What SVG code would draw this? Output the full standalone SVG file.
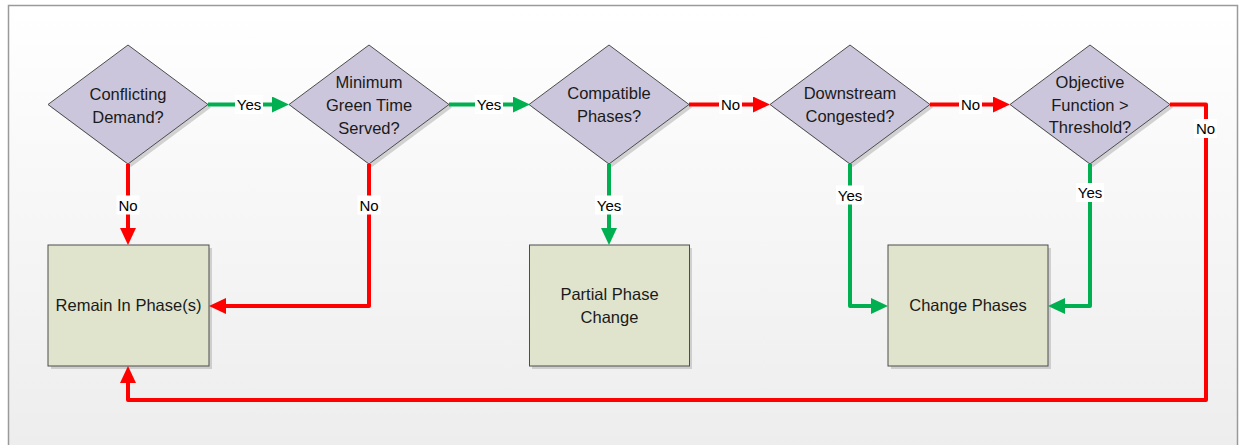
<svg xmlns="http://www.w3.org/2000/svg" width="1243" height="445" viewBox="0 0 1243 445">
<defs>
<linearGradient id="bg" x1="0" y1="0" x2="0" y2="1">
<stop offset="0" stop-color="#ffffff"/>
<stop offset="1" stop-color="#ededed"/>
</linearGradient>
<marker id="ag" markerUnits="userSpaceOnUse" markerWidth="18" markerHeight="18" refX="12" refY="8" orient="auto"><path d="M0,0 L17,8 L0,16 z" fill="#00b050"/></marker>
<marker id="ar" markerUnits="userSpaceOnUse" markerWidth="18" markerHeight="18" refX="12" refY="8" orient="auto"><path d="M0,0 L17,8 L0,16 z" fill="#ff0000"/></marker>
</defs>
<style>
.dia{fill:#ccc6dc;stroke:#4d4d4d;stroke-width:1}
.box{fill:#e0e4cd;stroke:#4d4d4d;stroke-width:1}
.sh{fill:#b8b8b8;opacity:0.6}
.t{font-family:"Liberation Sans",Arial,sans-serif;font-size:16.5px;fill:#1a1a1a;text-anchor:middle}
.lb{font-family:"Liberation Sans",Arial,sans-serif;font-size:15px;fill:#000;text-anchor:middle}
.lbg{fill:#ffffff}
.g{fill:none;stroke:#00b050;stroke-width:4;stroke-linejoin:round;marker-end:url(#ag)}
.r{fill:none;stroke:#ff0000;stroke-width:4;stroke-linejoin:round;marker-end:url(#ar)}
</style>
<rect x="0" y="0" width="1243" height="445" fill="#ffffff"/>
<rect x="8.5" y="5.5" width="1229" height="445" fill="url(#bg)" stroke="#9a9a9a" stroke-width="1.5"/>

<g id="d1">
<polygon class="sh" points="131,48 211,107.5 131,167 51,107.5"/>
<polygon class="dia" points="128,45 208,104.5 128,164 48,104.5"/>
<text class="t" x="128" y="100">Conflicting</text>
<text class="t" x="128" y="122.7">Demand?</text>
</g>
<g id="d2">
<polygon class="sh" points="372,48 452,107.5 372,167 292,107.5"/>
<polygon class="dia" points="369,45 449,104.5 369,164 289,104.5"/>
<text class="t" x="369" y="88.3">Minimum</text>
<text class="t" x="369" y="111">Green Time</text>
<text class="t" x="369" y="134">Served?</text>
</g>
<g id="d3">
<polygon class="sh" points="612,48 692,107.5 612,167 532,107.5"/>
<polygon class="dia" points="609,45 689,104.5 609,164 529,104.5"/>
<text class="t" x="609" y="99.3">Compatible</text>
<text class="t" x="609" y="122.3">Phases?</text>
</g>
<g id="d4">
<polygon class="sh" points="853,48 933,107.5 853,167 773,107.5"/>
<polygon class="dia" points="850,45 930,104.5 850,164 770,104.5"/>
<text class="t" x="850" y="99.3">Downstream</text>
<text class="t" x="850" y="122.3">Congested?</text>
</g>
<g id="d5">
<polygon class="sh" points="1093,48 1173,107.5 1093,167 1013,107.5"/>
<polygon class="dia" points="1090,45 1170,104.5 1090,164 1010,104.5"/>
<text class="t" x="1090" y="87.7">Objective</text>
<text class="t" x="1090" y="110.7">Function &gt;</text>
<text class="t" x="1090" y="133.3">Threshold?</text>
</g>

<g id="remain">
<rect class="sh" x="51" y="248" width="161" height="121"/>
<rect class="box" x="48" y="245" width="161" height="121"/>
<text class="t" x="128.5" y="311">Remain In Phase(s)</text>
</g>
<g id="partial">
<rect class="sh" x="532" y="248" width="160" height="121"/>
<rect class="box" x="529.5" y="245" width="160" height="121"/>
<text class="t" x="609.5" y="300">Partial Phase</text>
<text class="t" x="609.5" y="322.7">Change</text>
</g>
<g id="change">
<rect class="sh" x="891" y="248" width="160" height="121"/>
<rect class="box" x="888" y="245" width="160" height="121"/>
<text class="t" x="968" y="311">Change Phases</text>
</g>

<g id="connectors">
<path class="g" d="M208,104.5 H284"/>
<path class="g" d="M449,104.5 H525"/>
<path class="r" d="M689,104.5 H765"/>
<path class="r" d="M930,104.5 H1005"/>
<path class="r" d="M128,164 V240"/>
<path class="r" d="M369,164 V306 H214"/>
<path class="g" d="M609,164 V240"/>
<path class="g" d="M850,164 V306 H883"/>
<path class="g" d="M1090,164 V306 H1053"/>
<path class="r" d="M1170,104.5 H1206 V400 H128 V371"/>

<rect class="lbg" x="235" y="95" width="28" height="19"/>
<text class="lb" x="249" y="110">Yes</text>
<rect class="lbg" x="475" y="95" width="28" height="19"/>
<text class="lb" x="489" y="110">Yes</text>
<rect class="lbg" x="719" y="95" width="23" height="19"/>
<text class="lb" x="730.5" y="110">No</text>
<rect class="lbg" x="959" y="95" width="23" height="19"/>
<text class="lb" x="970.5" y="110">No</text>
<rect class="lbg" x="1194" y="119" width="23" height="19"/>
<text class="lb" x="1205.5" y="134">No</text>
<rect class="lbg" x="116.5" y="195.5" width="23" height="19"/>
<text class="lb" x="128" y="210.5">No</text>
<rect class="lbg" x="357.5" y="195.5" width="23" height="19"/>
<text class="lb" x="369" y="210.5">No</text>
<rect class="lbg" x="595" y="195.5" width="28" height="19"/>
<text class="lb" x="609" y="210.5">Yes</text>
<rect class="lbg" x="836" y="185.5" width="28" height="19"/>
<text class="lb" x="850" y="200.5">Yes</text>
<rect class="lbg" x="1076" y="183" width="28" height="19"/>
<text class="lb" x="1090" y="198">Yes</text>
</g>
</svg>
